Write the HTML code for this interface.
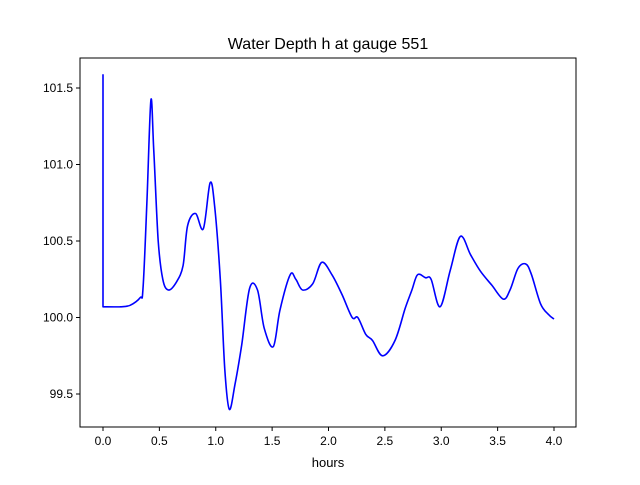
<!DOCTYPE html>
<html><head><meta charset="utf-8"><style>
body{margin:0;background:#fff;font-family:"Liberation Sans",sans-serif;}
</style></head><body>
<svg id="chart" width="640" height="480" xmlns="http://www.w3.org/2000/svg">
<rect width="640" height="480" fill="#fff"/>
<text x="328" y="49" font-size="16" text-anchor="middle">Water Depth h at gauge 551</text>
<g id="axes"></g>
<text x="328" y="467" font-size="13" text-anchor="middle">hours</text>
</svg>
<script>
const xTicks=[0.0,0.5,1.0,1.5,2.0,2.5,3.0,3.5,4.0];
const xTickLabels=["0.0","0.5","1.0","1.5","2.0","2.5","3.0","3.5","4.0"];
const yTicks=[99.5,100.0,100.5,101.0,101.5];
const yTickLabels=["99.5","100.0","100.5","101.0","101.5"];
const hours=[0,0,0.15,0.24,0.33,0.355,0.39,0.425,0.45,0.49,0.53,0.58,0.65,0.71,0.75,0.82,0.89,0.95,0.99,1.04,1.08,1.12,1.17,1.23,1.30,1.37,1.43,1.51,1.57,1.66,1.71,1.77,1.86,1.94,2.03,2.12,2.21,2.26,2.33,2.39,2.48,2.59,2.68,2.74,2.79,2.86,2.91,2.99,3.08,3.17,3.26,3.35,3.45,3.55,3.61,3.68,3.75,3.80,3.88,3.95,4.0];
const depth=[101.59,100.07,100.07,100.08,100.13,100.19,100.77,101.42,101.1,100.5,100.25,100.18,100.23,100.34,100.6,100.68,100.58,100.88,100.73,100.25,99.66,99.4,99.56,99.82,100.19,100.18,99.93,99.81,100.05,100.28,100.25,100.18,100.22,100.36,100.28,100.15,100.0,100.0,99.89,99.85,99.75,99.85,100.06,100.18,100.28,100.26,100.25,100.07,100.31,100.53,100.41,100.30,100.21,100.12,100.18,100.32,100.35,100.28,100.09,100.02,99.99];
const L=80,R=576,T=58,B=427;
const xs=v=>103+(v-0)*112.75;
const ys=v=>317.5-(v-100)*153;
const NS="http://www.w3.org/2000/svg";
const g=document.getElementById('axes');
function mk(t,a){const e=document.createElementNS(NS,t);for(const k in a)e.setAttribute(k,a[k]);g.appendChild(e);return e;}
xTicks.forEach((v,i)=>{
 const l=mk('line',{x1:xs(v),x2:xs(v),y1:B,y2:B+4,stroke:'#000'});
 
 
 const t=mk('text',{x:xs(v),y:B+18,'font-size':12,'text-anchor':'middle'});
 t.textContent=xTickLabels[i];
 
 
});
yTicks.forEach((v,i)=>{
 const l=mk('line',{x1:L-4,x2:L,y1:ys(v),y2:ys(v),stroke:'#000'});
 
 
 const t=mk('text',{x:L-7,y:ys(v)+4,'font-size':12,'text-anchor':'end'});
 t.textContent=yTickLabels[i];
 
 
});
const P=hours.map((h,i)=>[xs(h),ys(depth[i])]);
let d='M'+P[0][0].toFixed(1)+','+P[0][1].toFixed(1)+' L'+P[1][0].toFixed(1)+','+P[1][1].toFixed(1);
for(let i=1;i<P.length-1;i++){
 const p0=P[Math.max(1,i-1)],p1=P[i],p2=P[i+1],p3=P[Math.min(P.length-1,i+2)];
 const c1=[p1[0]+(p2[0]-p0[0])/6,p1[1]+(p2[1]-p0[1])/6];
 const c2=[p2[0]-(p3[0]-p1[0])/6,p2[1]-(p3[1]-p1[1])/6];
 d+=' C'+c1[0].toFixed(1)+','+c1[1].toFixed(1)+' '+c2[0].toFixed(1)+','+c2[1].toFixed(1)+' '+p2[0].toFixed(1)+','+p2[1].toFixed(1);
}
const pl=mk('path',{d:d,fill:'none',stroke:'#0000ff','stroke-width':1.6,'stroke-linejoin':'round'});


const fr=mk('rect',{x:L,y:T,width:R-L,height:B-T,fill:'none',stroke:'#000','stroke-width':1});


</script>
</body></html>
